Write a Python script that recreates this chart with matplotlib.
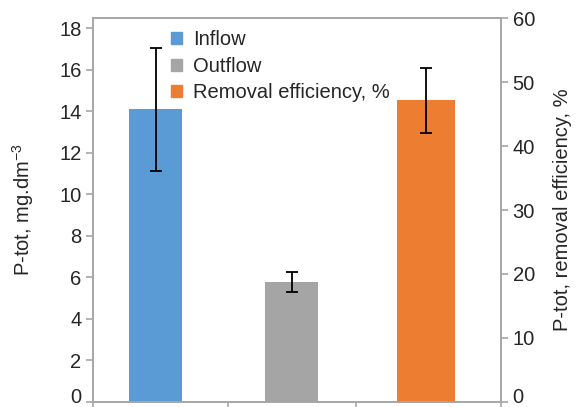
import numpy as np
import matplotlib
matplotlib.use("Agg")
import matplotlib.pyplot as plt
import matplotlib.transforms as mtransforms
from matplotlib.patches import Patch

plt.rcParams['font.family'] = ['Liberation Sans', 'DejaVu Sans']
plt.rcParams['mathtext.default'] = 'regular'

# data
labels = ["Inflow", "Outflow", "Removal efficiency, %"]
ptot = [14.1, 5.76]          # mg.dm-3, left axis
ptot_err = [2.97, 0.49]
eff = [47.2]                 # %, right axis
eff_err = [5.1]

colors = ["#5B9BD5", "#A5A5A5", "#ED7D31"]
txt = "#262626"
spine = "#A6A6A6"
fs = 14.5

W, H = 577, 407
fig = plt.figure(figsize=(W / 100, H / 100), dpi=100)
ax = fig.add_axes([93.3 / W, 5.3 / H, (500.7 - 93.3) / W, (401.7 - 18.3) / H])
ax2 = ax.twinx()

xpos = [0.46, 1.46, 2.45]
ekw = dict(ecolor="black", elinewidth=1.3, capsize=4, capthick=1.3)
ax.bar(xpos[0], ptot[0], width=0.39, color=colors[0], yerr=ptot_err[0], error_kw=ekw, zorder=2)
ax.bar(xpos[1], ptot[1], width=0.39, color=colors[1], yerr=ptot_err[1], error_kw=ekw, zorder=2)
ax2.bar(xpos[2], eff[0], width=0.42, color=colors[2], yerr=eff_err[0], error_kw=ekw, zorder=2)

ax.set_xlim(0, 3)
ax.set_ylim(0, 18.48)
ax.set_yticks(np.arange(0, 19, 2))
ax2.set_ylim(0, 60)
ax2.set_yticks(np.arange(0, 61, 10))
ax.set_xticks([0, 0.994, 1.934, 3])
ax.set_xticklabels([])

for a in (ax, ax2):
    for s in a.spines.values():
        s.set_color(spine)
        s.set_linewidth(1.2)
    a.tick_params(colors=spine, labelcolor=txt, labelsize=fs, length=5, width=1.2)
ax.tick_params(axis="x", length=5)

# the zero labels sit a little above their tick, as in the original
up = mtransforms.ScaledTranslation(0, 6 / 100, fig.dpi_scale_trans)
for lab in (ax.get_yticklabels()[0], ax2.get_yticklabels()[0]):
    lab.set_transform(lab.get_transform() + up)

ax.set_ylabel("P-tot, mg.dm$^{-3}$", fontsize=fs, color=txt, labelpad=17)
ax2.set_ylabel("P-tot, removal efficiency, %", fontsize=fs, color=txt, labelpad=13)

handles = [Patch(color=c) for c in colors]
ax.legend(handles, labels, loc="upper left", bbox_to_anchor=(161 / W, 1 - 20 / H),
          bbox_transform=fig.transFigure, frameon=False, fontsize=fs,
          handlelength=0.55, handleheight=0.55, handletextpad=0.55,
          labelspacing=0.38, borderpad=0, labelcolor=txt)

fig.savefig("out.png", dpi=100)
